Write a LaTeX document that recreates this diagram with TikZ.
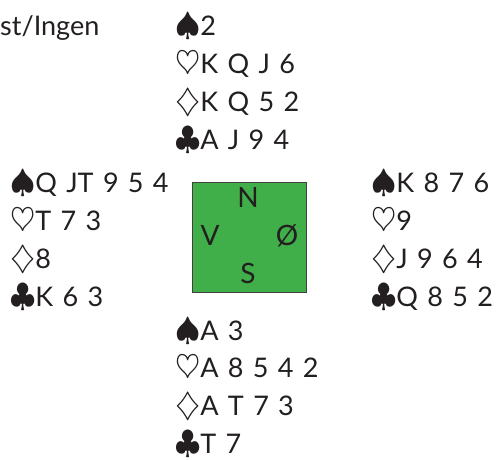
\documentclass[tikz,border=0pt]{standalone}
\usepackage{fontspec}
\setmainfont[WordSpace=1.35]{Lato}
\usetikzlibrary{positioning}
\definecolor{ink}{HTML}{231F20}
\definecolor{feltgreen}{HTML}{40AE49}
\newcommand{\suitmark}[1]{\scalebox{1.3}{$#1$}}

\begin{document}
\begin{tikzpicture}[
  x=1pt, y=-1pt,
  card/.style={anchor=base west, inner sep=0pt, text=ink, font=\fontsize{27}{32}\selectfont},
  seat/.style={anchor=base, inner sep=0pt, text=ink, font=\fontsize{28}{32}\selectfont},
  board/.style={draw=black!75, line width=0.8pt, fill=feltgreen}
]
\useasboundingbox (0,0) rectangle (502,459);

\node[card] (deal) at (0,35) {st/Ingen};

% the table
\draw[board] (192,182) rectangle (306,292);
\node[seat] (seatN) at (248,207) {N};
\node[seat] (seatV) at (210,245) {V};
\node[seat] (seatE) at (287,245) {Ø};
\node[seat] (seatS) at (248,283) {S};

% hands
\foreach \cards [count=\i] in {\suitmark\spadesuit2, \suitmark\heartsuit K Q J 6, \suitmark\diamondsuit K Q 5 2, \suitmark\clubsuit A J 9 4}
  \node[card] (north-\i) at (175,{35+38.3*(\i-1)}) {\cards};
\foreach \cards [count=\i] in {\suitmark\spadesuit Q JT 9 5 4, \suitmark\heartsuit T 7 3, \suitmark\diamondsuit 8, \suitmark\clubsuit K 6 3}
  \node[card] (west-\i) at (10,{192+38.3*(\i-1)}) {\cards};
\foreach \cards [count=\i] in {\suitmark\spadesuit K 8 7 6, \suitmark\heartsuit 9, \suitmark\diamondsuit J 9 6 4, \suitmark\clubsuit Q 8 5 2}
  \node[card] (east-\i) at (371,{192+38.3*(\i-1)}) {\cards};
\foreach \cards [count=\i] in {\suitmark\spadesuit A 3, \suitmark\heartsuit A 8 5 4 2, \suitmark\diamondsuit A T 7 3, \suitmark\clubsuit T 7}
  \node[card] (south-\i) at (175,{340+37.8*(\i-1)}) {\cards};
\end{tikzpicture}
\end{document}
